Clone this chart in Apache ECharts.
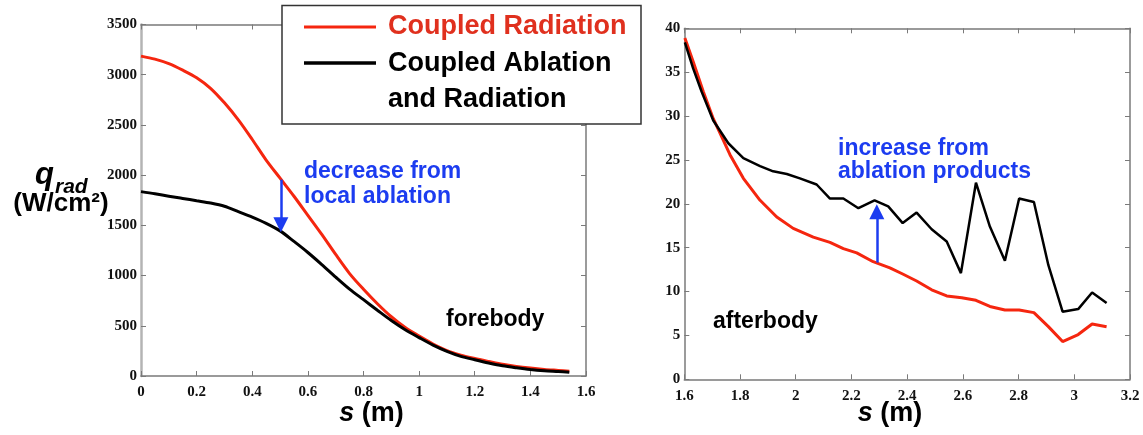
<!DOCTYPE html>
<html>
<head>
<meta charset="utf-8">
<script src="https://cdn.jsdelivr.net/npm/echarts@6/dist/echarts.min.js"></script>
<style>
  html, body { margin: 0; padding: 0; background: #fff; }
  #chart { width: 1143px; height: 435px; }
</style>
</head>
<body>
<div id="chart"></div>
<script>
// ---- Forebody: radiative heating along the surface, s = 0 .. 1.54 m ----
const foreS = [0, 0.05, 0.1, 0.15, 0.2, 0.25, 0.3, 0.35, 0.4, 0.45, 0.5, 0.55, 0.6, 0.65, 0.7, 0.75,
               0.8, 0.85, 0.9, 0.95, 1.0, 1.05, 1.1, 1.15, 1.2, 1.25, 1.3, 1.35, 1.4, 1.45, 1.5, 1.54];
const foreRadiation = [3185, 3155, 3110, 3045, 2970, 2865, 2720, 2550, 2355, 2150, 1970, 1790, 1600, 1410, 1210, 1020,
                       864, 720, 590, 482, 398, 318, 252, 208, 175, 145, 116, 95, 79, 66, 56, 48];
const foreAblation = [1836, 1815, 1790, 1768, 1745, 1722, 1690, 1636, 1582, 1520, 1445, 1340, 1230, 1110, 985, 865,
                      760, 655, 552, 460, 382, 308, 246, 196, 162, 130, 102, 82, 65, 53, 45, 38];

// ---- Afterbody: s = 1.6 .. 3.12 m ----
const aftRadS = [1.602, 1.632, 1.668, 1.704, 1.764, 1.812, 1.872, 1.932, 1.991, 2.063, 2.123, 2.171, 2.219, 2.278, 2.338,
                 2.384, 2.434, 2.488, 2.542, 2.596, 2.647, 2.697, 2.751, 2.802, 2.855, 2.907, 2.958, 3.014, 3.064, 3.116];
const aftRadiation = [38.9, 36.2, 32.8, 29.7, 25.6, 22.9, 20.4, 18.5, 17.2, 16.2, 15.6, 14.9, 14.4, 13.4, 12.7,
                      12.0, 11.2, 10.2, 9.5, 9.3, 9.0, 8.3, 7.9, 7.9, 7.6, 6.0, 4.3, 5.1, 6.3, 6.0];
const aftAblS = [1.602, 1.632, 1.662, 1.704, 1.758, 1.812, 1.872, 1.919, 1.968, 2.015, 2.075, 2.123, 2.171, 2.225, 2.283,
                 2.332, 2.384, 2.434, 2.488, 2.542, 2.593, 2.647, 2.697, 2.751, 2.802, 2.855, 2.907, 2.958, 3.014, 3.064, 3.116];
const aftAblation = [38.4, 35.4, 32.8, 29.5, 26.9, 25.2, 24.3, 23.7, 23.4, 22.9, 22.2, 20.6, 20.6, 19.5, 20.4,
                     19.7, 17.8, 19.0, 17.1, 15.7, 12.1, 22.4, 17.4, 13.5, 20.6, 20.2, 13.0, 7.7, 8.0, 9.9, 8.7];

// annotation arrows: [s, from, to]
const foreArrow = [0.503, 1955, 1505];
const aftArrow = [2.291, 13.3, 19.1];

// axis ranges: [min, max, interval]
const foreX = [0, 1.6, 0.2], foreY = [0, 3500, 500];
const aftX = [1.6, 3.2, 0.2], aftY = [0, 40, 5];

const RED = '#f5260f';
const BLACK = '#000000';
const BLUE = '#1c3cf0';
const AXIS = '#7a7a7a';

const zip = (xs, ys) => xs.map((x, i) => [x, ys[i]]);
const fmt = v => String(Number(v.toFixed(2)));

function xAxisPair(grid, r) {
  const base = {
    type: 'value', gridIndex: grid, min: r[0], max: r[1], interval: r[2],
    axisLine: { show: true, onZero: false, lineStyle: { color: AXIS, width: 1.5 } },
    axisTick: { show: true, inside: true, length: 5, lineStyle: { color: AXIS, width: 1 } },
    splitLine: { show: false }
  };
  return [
    Object.assign({}, base, {
      position: 'bottom',
      axisLabel: { show: true, margin: 9, formatter: fmt, color: '#111',
                   fontFamily: 'Liberation Serif', fontWeight: 'bold', fontSize: 15 }
    }),
    Object.assign({}, base, { position: 'top', axisLabel: { show: false } })
  ];
}
function yAxisPair(grid, r, leftColor, leftWidth) {
  const base = {
    type: 'value', gridIndex: grid, min: r[0], max: r[1], interval: r[2],
    axisTick: { show: true, inside: true, length: 5, lineStyle: { color: AXIS, width: 1 } },
    splitLine: { show: false }
  };
  return [
    Object.assign({}, base, {
      position: 'left',
      axisLine: { show: true, onZero: false, lineStyle: { color: leftColor, width: leftWidth } },
      axisLabel: { show: true, margin: 4, formatter: fmt, color: '#111',
                   fontFamily: 'Liberation Serif', fontWeight: 'bold', fontSize: 15 }
    }),
    Object.assign({}, base, {
      position: 'right',
      axisLine: { show: true, onZero: false, lineStyle: { color: AXIS, width: 1.5 } },
      axisLabel: { show: false }
    })
  ];
}

function arrowMark(a) {
  return {
    silent: true,
    symbol: ['none', 'triangle'],
    symbolSize: 15,
    lineStyle: { color: BLUE, width: 2.5, type: 'solid' },
    itemStyle: { color: BLUE },
    label: { show: false },
    emphasis: { disabled: true },
    animation: false,
    data: [[{ coord: [a[0], a[1]] }, { coord: [a[0], a[2]] }]]
  };
}

const SANS = '"Liberation Sans", Arial, sans-serif';
function label(x, y, text, size, color, extra) {
  return Object.assign({
    type: 'text', x: x, y: y, z: 100,
    style: Object.assign({
      text: text, fill: color, font: 'bold ' + size + 'px ' + SANS,
      textAlign: 'left', textVerticalAlign: 'middle'
    }, extra || {})
  });
}

const chart = echarts.init(document.getElementById('chart'), null, { renderer: 'canvas' });

const option = {
  animation: false,
  backgroundColor: '#ffffff',
  grid: [
    { left: 141, top: 24.5, width: 445, height: 351.5, containLabel: false },
    { left: 684.3, top: 28.3, width: 445.7, height: 351, containLabel: false }
  ],
  xAxis: [...xAxisPair(0, foreX), ...xAxisPair(1, aftX)],
  yAxis: [...yAxisPair(0, foreY, '#b4b4b4', 2.5), ...yAxisPair(1, aftY, AXIS, 1.5)],
  series: [
    { name: 'Coupled Radiation', type: 'line', xAxisIndex: 0, yAxisIndex: 0,
      data: zip(foreS, foreRadiation), showSymbol: false, smooth: 0.3,
      lineStyle: { color: RED, width: 3 }, z: 3,
      markLine: arrowMark(foreArrow) },
    { name: 'Coupled Ablation and Radiation', type: 'line', xAxisIndex: 0, yAxisIndex: 0,
      data: zip(foreS, foreAblation), showSymbol: false, smooth: 0.3,
      lineStyle: { color: BLACK, width: 3 }, z: 4 },
    { name: 'Coupled Radiation', type: 'line', xAxisIndex: 2, yAxisIndex: 2,
      data: zip(aftRadS, aftRadiation), showSymbol: false,
      lineStyle: { color: RED, width: 3 }, z: 3,
      markLine: arrowMark(aftArrow) },
    { name: 'Coupled Ablation and Radiation', type: 'line', xAxisIndex: 2, yAxisIndex: 2,
      data: zip(aftAblS, aftAblation), showSymbol: false,
      lineStyle: { color: BLACK, width: 2.5 }, z: 4 }
  ],
  graphic: [
    // legend box
    { type: 'rect', z: 90, shape: { x: 282, y: 5.5, width: 359, height: 118.5 },
      style: { fill: '#ffffff', stroke: '#333333', lineWidth: 1.5 } },
    { type: 'line', z: 100, shape: { x1: 304, y1: 27, x2: 376, y2: 27 },
      style: { stroke: RED, lineWidth: 3 } },
    { type: 'line', z: 100, shape: { x1: 304, y1: 63, x2: 376, y2: 63 },
      style: { stroke: BLACK, lineWidth: 3.5 } },
    label(388, 27, 'Coupled Radiation', 27, '#e0301e'),
    label(388, 64, 'Coupled Ablation', 27, '#000'),
    label(388, 100, 'and Radiation', 27, '#000'),

    // annotations
    label(304, 172, 'decrease from', 23, BLUE),
    label(304, 197, 'local ablation', 23, BLUE),
    label(838, 149, 'increase from', 23, BLUE),
    label(838, 172, 'ablation products', 23, BLUE),
    label(446, 320, 'forebody', 23, '#000'),
    label(713, 322, 'afterbody', 23, '#000'),

    // y-axis title
    label(35, 175, 'q', 31, '#000', { font: 'italic bold 31px ' + SANS }),
    label(55, 187, 'rad', 21, '#000', { font: 'italic bold 21px ' + SANS }),
    label(61, 204, '(W/cm²)', 26, '#000', { textAlign: 'center' }),

    // x-axis titles
    { type: 'text', x: 371.5, y: 414, z: 100,
      style: { text: '{s|s}{m| (m)}', textAlign: 'center', textVerticalAlign: 'middle',
               rich: { s: { font: 'italic bold 27px ' + SANS, fill: '#000' },
                       m: { font: 'bold 27px ' + SANS, fill: '#000' } } } },
    { type: 'text', x: 890, y: 414, z: 100,
      style: { text: '{s|s}{m| (m)}', textAlign: 'center', textVerticalAlign: 'middle',
               rich: { s: { font: 'italic bold 27px ' + SANS, fill: '#000' },
                       m: { font: 'bold 27px ' + SANS, fill: '#000' } } } }
  ]
};

chart.setOption(option);
</script>
</body>
</html>
